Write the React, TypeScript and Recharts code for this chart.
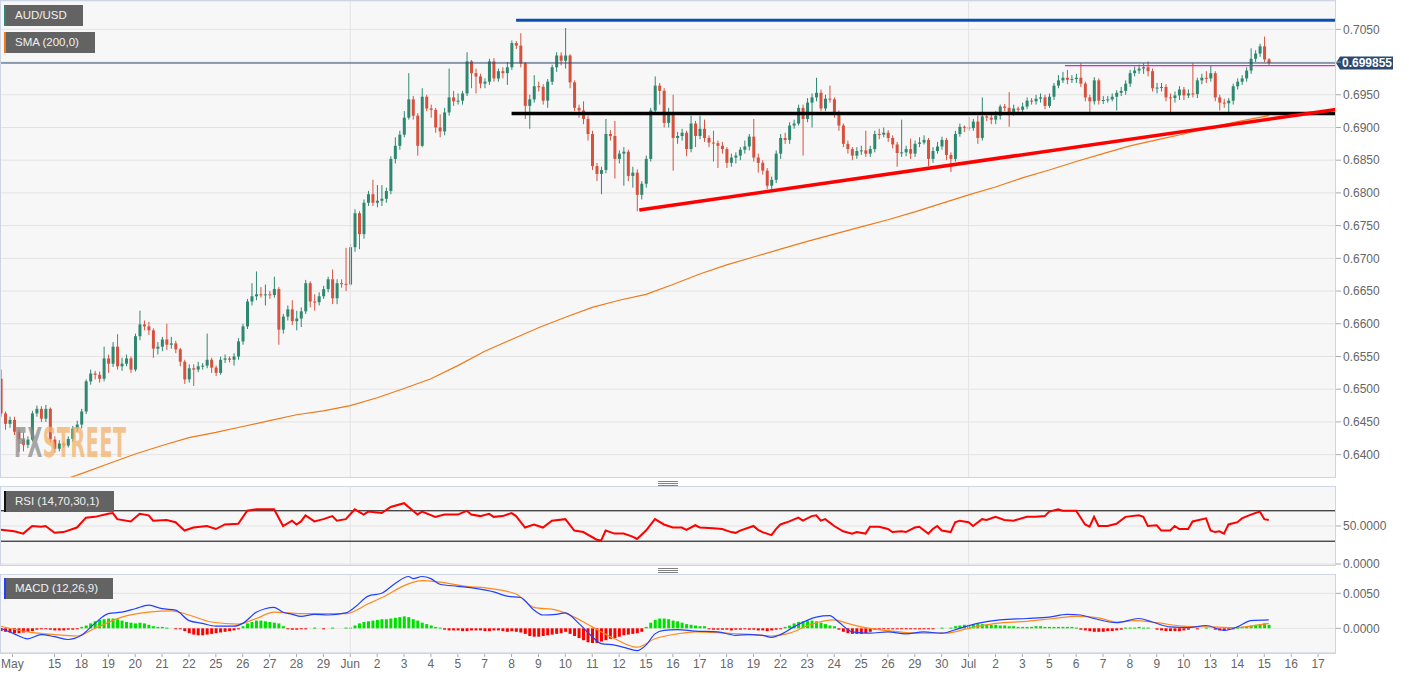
import React from "react";
import {
  ComposedChart,
  Bar,
  Line,
  XAxis,
  YAxis,
  CartesianGrid,
  ReferenceLine,
} from "recharts";

// AUD/USD 4H candles, prices in 1/10000 units (pips). open = previous close
const PIP = 0.0001;
const FIRST_OPEN = 6516;

const closes = [
  6463, 6447, 6453, 6435, 6423, 6415, 6423, 6463, 6470, 6455, 6470, 6423,
  6409, 6417, 6414, 6424, 6440, 6446, 6466, 6512, 6524, 6522, 6516, 6547,
  6539, 6565, 6535, 6539, 6547, 6530, 6581, 6599, 6596, 6590, 6562, 6565,
  6576, 6568, 6570, 6561, 6542, 6515, 6532, 6530, 6535, 6536, 6545, 6533,
  6525, 6545, 6547, 6545, 6550, 6573, 6596, 6634, 6642, 6645, 6644, 6645,
  6644, 6653, 6591, 6611, 6622, 6604, 6608, 6619, 6662, 6634, 6633, 6642,
  6653, 6668, 6639, 6662, 6661, 6660, 6717, 6769, 6737, 6785, 6798, 6785,
  6788, 6791, 6803, 6852, 6872, 6889, 6915, 6943, 6918, 6872, 6947, 6929,
  6927, 6900, 6894, 6923, 6946, 6940, 6941, 6952, 7001, 6983, 6978, 6967,
  6970, 7001, 6975, 6986, 6983, 6992, 7029, 7025, 6998, 6933, 6943, 6963,
  6962, 6941, 6970, 6992, 7010, 7002, 7010, 6969, 6930, 6926, 6913, 6890,
  6841, 6829, 6835, 6890, 6887, 6852, 6860, 6863, 6826, 6831, 6797, 6814,
  6852, 6926, 6964, 6956, 6907, 6923, 6884, 6887, 6892, 6867, 6906, 6887,
  6898, 6884, 6877, 6876, 6872, 6867, 6846, 6854, 6857, 6866, 6871, 6886,
  6854, 6846, 6834, 6811, 6820, 6860, 6884, 6881, 6903, 6906, 6930, 6913,
  6938, 6946, 6953, 6929, 6944, 6943, 6923, 6903, 6875, 6867, 6857, 6864,
  6865, 6860, 6867, 6890, 6889, 6892, 6884, 6874, 6861, 6862, 6867, 6860,
  6875, 6877, 6881, 6852, 6864, 6871, 6881, 6858, 6852, 6890, 6901, 6900,
  6899, 6909, 6884, 6917, 6915, 6912, 6918, 6932, 6930, 6923, 6929, 6927,
  6932, 6941, 6940, 6944, 6946, 6933, 6947, 6964, 6972, 6976, 6973, 6974,
  6976, 6967, 6946, 6940, 6972, 6941, 6942, 6943, 6947, 6953, 6956, 6967,
  6983, 6987, 6990, 6992, 6986, 6960, 6961, 6962, 6946, 6945, 6949, 6958,
  6949, 6952, 6951, 6972, 6976, 6975, 6983, 6946, 6938, 6937, 6941, 6963,
  6970, 6975, 6987, 7005, 7013, 7024, 7004, 6998.55,
];

const highs = [
  6530, 6466, 6458, 6458, 6440, 6434, 6428, 6467, 6475, 6474, 6476, 6472,
  6428, 6422, 6420, 6428, 6444, 6452, 6470, 6515, 6530, 6528, 6527, 6565,
  6553, 6572, 6584, 6548, 6553, 6550, 6585, 6620, 6605, 6603, 6593, 6572,
  6580, 6600, 6580, 6574, 6563, 6545, 6538, 6538, 6542, 6540, 6585, 6548,
  6536, 6550, 6553, 6550, 6555, 6578, 6600, 6638, 6662, 6680, 6656, 6660,
  6650, 6672, 6656, 6615, 6628, 6636, 6620, 6625, 6667, 6665, 6645, 6648,
  6658, 6672, 6683, 6668, 6668, 6716, 6722, 6775, 6772, 6790, 6803, 6820,
  6812, 6812, 6808, 6856, 6885, 6895, 6925, 6983, 6948, 6922, 6960, 6950,
  6935, 6930, 6920, 6930, 6990, 6956, 6952, 6956, 7015, 7003, 6990, 6982,
  6975, 7005, 7006, 6990, 6992, 7000, 7033, 7032, 7044, 7000, 6950, 6980,
  6970, 6966, 6974, 6996, 7015, 7015, 7052, 7012, 6972, 6935, 6940, 6918,
  6895, 6846, 6840, 6913, 6896, 6910, 6865, 6870, 6866, 6840, 6836, 6818,
  6857, 6930, 6978, 6968, 6960, 6930, 6950, 6893, 6898, 6895, 6918, 6910,
  6918, 6912, 6888, 6895, 6880, 6878, 6870, 6860, 6862, 6870, 6880, 6890,
  6913, 6860, 6850, 6838, 6825, 6865, 6890, 6892, 6908, 6912, 6935, 6935,
  6945, 6952, 6976, 6958, 6950, 6964, 6946, 6926, 6906, 6880, 6870, 6870,
  6872, 6895, 6872, 6895, 6898, 6900, 6896, 6888, 6878, 6912, 6872, 6883,
  6880, 6885, 6888, 6884, 6870, 6878, 6886, 6884, 6862, 6895, 6906, 6903,
  6916, 6913, 6918, 6946, 6920, 6920, 6925, 6935, 6936, 6954, 6935, 6932,
  6938, 6946, 6945, 6950, 6952, 6950, 6952, 6968, 6980, 6985, 6988, 6980,
  6982, 6998, 6970, 6950, 6977, 6975, 6948, 6948, 6952, 6957, 6962, 6972,
  6988, 6993, 6996, 6998, 7001, 6990, 6968, 6968, 6966, 6952, 6955, 6963,
  6962, 6958, 6998, 6976, 6982, 6986, 6994, 6986, 6950, 6944, 6945, 6967,
  6975, 6980, 6992, 7021, 7018, 7028, 7039, 7006,
];

const lows = [
  6458, 6438, 6441, 6430, 6404, 6405, 6410, 6420, 6458, 6450, 6450, 6418,
  6403, 6405, 6410, 6411, 6420, 6435, 6440, 6462, 6507, 6515, 6510, 6512,
  6525, 6534, 6530, 6528, 6535, 6525, 6527, 6575, 6590, 6583, 6548, 6553,
  6558, 6560, 6562, 6555, 6535, 6508, 6510, 6505, 6526, 6530, 6532, 6525,
  6520, 6522, 6540, 6541, 6536, 6545, 6568, 6592, 6628, 6636, 6640, 6628,
  6638, 6640, 6568, 6585, 6605, 6598, 6590, 6595, 6615, 6625, 6620, 6628,
  6638, 6648, 6630, 6630, 6655, 6650, 6658, 6710, 6714, 6730, 6780, 6780,
  6778, 6780, 6785, 6798, 6845, 6866, 6885, 6912, 6912, 6857, 6870, 6925,
  6915, 6892, 6885, 6888, 6918, 6933, 6935, 6935, 6948, 6960, 6952, 6960,
  6960, 6965, 6970, 6970, 6975, 6965, 6988, 7020, 6992, 6913, 6898, 6938,
  6955, 6935, 6930, 6965, 6985, 6995, 6990, 6960, 6925, 6915, 6905, 6880,
  6835, 6818, 6798, 6830, 6880, 6822, 6845, 6811, 6818, 6808, 6772, 6790,
  6808, 6848, 6920, 6935, 6900, 6900, 6834, 6875, 6880, 6856, 6862, 6870,
  6882, 6878, 6870, 6848, 6838, 6860, 6838, 6840, 6845, 6850, 6860, 6865,
  6848, 6831, 6828, 6806, 6805, 6815, 6852, 6875, 6875, 6898, 6903, 6857,
  6908, 6900, 6940, 6925, 6925, 6938, 6915, 6895, 6870, 6860, 6850, 6852,
  6858, 6855, 6855, 6862, 6882, 6885, 6878, 6868, 6840, 6855, 6856, 6852,
  6855, 6870, 6874, 6841, 6846, 6860, 6866, 6850, 6832, 6848, 6886, 6893,
  6895, 6895, 6875, 6880, 6910, 6905, 6905, 6912, 6925, 6901, 6918, 6922,
  6922, 6928, 6935, 6935, 6938, 6928, 6930, 6942, 6960, 6968, 6966, 6968,
  6968, 6962, 6940, 6923, 6935, 6935, 6936, 6938, 6940, 6926, 6948, 6950,
  6962, 6978, 6982, 6982, 6978, 6955, 6952, 6955, 6940, 6923, 6938, 6942,
  6942, 6945, 6946, 6945, 6966, 6968, 6970, 6940, 6926, 6930, 6923, 6935,
  6958, 6965, 6970, 6982, 7000, 7008, 7000, 6995,
];

// SMA(200) read at [bar, price]
const smaPoints: [number, number][] = [
  [15, 0.6364], [18, 0.6371], [24, 0.6386], [30, 0.6401], [36, 0.6414],
  [42, 0.6426], [48, 0.6434], [54, 0.6443], [60, 0.6452], [66, 0.6461],
  [72, 0.6467], [78, 0.6475], [84, 0.6487], [90, 0.6501], [96, 0.6516],
  [102, 0.6536], [108, 0.6558], [114, 0.6576], [120, 0.6594], [126, 0.661],
  [132, 0.6625], [138, 0.6636], [144, 0.6645], [150, 0.666], [156, 0.6676],
  [162, 0.669], [168, 0.6702], [174, 0.6714], [180, 0.6726], [186, 0.6737],
  [192, 0.6748], [198, 0.6759], [204, 0.6771], [210, 0.6784], [216, 0.6797],
  [222, 0.6809], [228, 0.6823], [234, 0.6835], [240, 0.6848], [246, 0.686],
  [252, 0.6872], [258, 0.6881], [264, 0.689], [270, 0.69], [276, 0.6909],
  [283, 0.6918],
];

// RSI(14) read at [bar, value]
const rsiPoints: [number, number][] = [
  [0, 45], [3, 43], [5, 40], [7, 50], [9, 49], [10, 50], [12, 41], [14, 42],
  [17, 48], [19, 61], [21, 62], [24, 66], [25, 67], [26, 59], [29, 56],
  [31, 66], [33, 64], [34, 57], [37, 58], [39, 55], [41, 44], [43, 48],
  [46, 50], [48, 46], [50, 52], [53, 53], [55, 70], [57, 72], [61, 72],
  [63, 50], [65, 57], [66, 52], [67, 56], [68, 64], [70, 56], [72, 59],
  [74, 63], [75, 57], [77, 59], [79, 72], [81, 65], [82, 69], [85, 67],
  [87, 75], [90, 80], [93, 65], [94, 69], [97, 62], [99, 65], [102, 65],
  [104, 70], [105, 65], [107, 63], [109, 66], [110, 62], [112, 63], [114, 67],
  [115, 63], [117, 48], [119, 52], [121, 48], [123, 57], [126, 59], [128, 44],
  [130, 42], [133, 32], [134, 31], [135, 44], [137, 40], [139, 40], [141, 36],
  [142, 33], [144, 44], [146, 59], [148, 52], [150, 48], [152, 48], [153, 45],
  [155, 51], [156, 48], [159, 47], [161, 46], [163, 42], [164, 41], [165, 44],
  [167, 48], [168, 50], [169, 45], [170, 42], [172, 38], [173, 46], [174, 52],
  [176, 56], [178, 61], [179, 57], [181, 63], [182, 64], [183, 57], [184, 59],
  [186, 50], [188, 43], [190, 40], [191, 42], [193, 40], [194, 49], [196, 49],
  [198, 46], [199, 42], [201, 43], [202, 42], [204, 48], [205, 49], [207, 40],
  [208, 46], [209, 50], [210, 44], [212, 42], [213, 55], [214, 57], [216, 55],
  [217, 50], [219, 59], [220, 58], [222, 62], [224, 58], [226, 57], [229, 62],
  [231, 62], [233, 63], [234, 69], [236, 72], [237, 70], [240, 70], [242, 52],
  [243, 49], [244, 62], [245, 50], [247, 50], [249, 53], [251, 62], [254, 64],
  [255, 62], [256, 50], [258, 51], [259, 44], [261, 44], [262, 50], [263, 46],
  [265, 46], [266, 56], [269, 60], [270, 44], [271, 42], [272, 43], [273, 40],
  [274, 52], [276, 55], [277, 60], [279, 65], [281, 69], [282, 59], [283, 58],
];

// MACD(12,26,9) lines read at [bar, value in pips]
const macdPoints: [number, number][] = [
  [0, 0], [3, -8], [6, -15], [9, -9], [12, -12], [15, -16], [18, -10], [21, 7],
  [24, 21], [27, 23], [30, 28], [33, 33], [36, 28], [39, 26], [42, 11], [45, 7],
  [48, 3], [52, 3], [54, 7], [57, 23], [59, 28], [61, 30], [63, 23], [65, 20],
  [67, 17], [70, 20], [73, 19], [77, 22], [79, 30], [82, 46], [85, 50], [88, 64],
  [91, 74], [92, 71], [94, 74], [96, 71], [98, 63], [102, 60], [106, 57],
  [110, 52], [113, 46], [116, 44], [119, 26], [121, 19], [124, 20], [126, 22],
  [129, 7], [132, -12], [134, -22], [137, -24], [140, -29], [142, -32],
  [144, -24], [146, -8], [148, -3], [151, -2], [155, -4], [160, -5], [164, -10],
  [167, -9], [170, -10], [172, -13], [174, -9], [177, 2], [182, 16], [185, 18],
  [187, 9], [190, -5], [194, -7], [198, -5], [202, -8], [206, -5], [210, -7],
  [214, 0], [218, 7], [223, 12], [229, 14], [234, 16], [238, 20], [241, 19],
  [244, 14], [249, 8], [254, 14], [257, 9], [261, 2], [265, 1], [269, 4],
  [273, -3], [276, 2], [279, 11], [283, 12],
];

const signalPoints: [number, number][] = [
  [0, 3], [6, -5], [12, -9], [17, -11], [21, 0], [27, 16], [33, 23], [38, 25],
  [42, 19], [47, 9], [53, 6], [57, 14], [61, 23], [67, 21], [77, 21], [82, 35],
  [86, 47], [90, 61], [94, 68], [98, 66], [104, 60], [109, 57], [115, 49],
  [119, 30], [124, 26], [128, 16], [132, 2], [137, -15], [142, -27], [146, -15],
  [151, -8], [155, -5], [162, -7], [168, -9], [172, -11], [176, -7], [181, 6],
  [186, 12], [189, 7], [193, 1], [199, -4], [205, -7], [211, -7], [216, 0],
  [222, 7], [229, 10], [235, 14], [240, 17], [245, 15], [249, 9], [253, 11],
  [258, 8], [264, 3], [270, 2], [275, 1], [283, 7],
];

// MACD histogram, one per bar, in pips
const histogram = [
  -4, -5, -6, -7, -7, -6, -5, -4, -2, -1, -1, -2, -3, -3, -3, -2, -2, -1,
  2, 4, 7, 10, 12, 13, 14, 14, 13, 11, 9, 8, 7, 8, 7, 5, 3, 2, 2, 1, 0, -1, -1,
  -4, -7, -9, -10, -10, -9, -8, -7, -6, -5, -4, -3, -1,
  3, 7, 9, 11, 11, 10, 9, 8, 7, 3, -1, -2, -2, -1, -1,
  0, 1, 0, -1, 0, 1, 0, 0, 1, 1,
  4, 7, 9, 10, 11, 12, 13, 13, 14, 15, 16, 17, 16, 13, 11, 8, 6, 4, 2, 1,
  -2, -3, -3, -3, -4, -4, -3, -3, -3, -4, -4, -3, -3, -4, -5, -4, -5, -6,
  -8, -11, -12, -12, -11, -10, -9, -8, -7, -5,
  -8, -11, -14, -17, -20, -21, -21, -19, -17, -15, -14, -12, -10, -9, -8, -7, -5,
  2, 8, 12, 14, 14, 13, 11, 10, 8, 6, 5, 4, 3, 3,
  -1, -2, -2, -2, -2, -3, -2, -2, -1, -2, -2, -3, -3, -4, -3, -2, -1,
  2, 4, 7, 9, 10, 11, 11, 10, 8, 6, 4, 3,
  -2, -5, -7, -8, -8, -8, -7, -5,
  -2, -2, -1, -1, -1, -1, -1, -1, -1, -1, -1, -1, -1, -1, 0, 1, 0, 1,
  3, 4, 5, 5, 6, 6, 6, 5, 5, 5, 4, 4,
  3, 3, 2, 2, 2, 2, 3, 3, 2, 2, 2, 2, 2, 2, 2, 1,
  -2, -3, -4, -5, -5, -5, -4, -4, -3, -2, 1, 1, 1, 2, 1, 1, 0,
  -2, -3, -4, -4, -4, -4, -3, -2, 0, -1, 0, 1, 0,
  -2, -3, -3, -2, -1, 1, 2, 3, 4, 5, 6, 7, 5,
];

// grid lines every 0.0050; the 0.7000 label sits under the last-price tag
const priceGrid = [
  0.64, 0.645, 0.65, 0.655, 0.66, 0.665, 0.67, 0.675, 0.68, 0.685, 0.69, 0.695,
  0.7, 0.705,
];
const hiddenPriceLabel = 0.7;
const rsiTicks = [0, 50];
const macdTicks = [0, 0.005];

const dayLabels = [
  "15", "18", "19", "20", "21", "22", "25", "26", "27", "28", "29", "Jun",
  "2", "3", "4", "5", "7", "8", "9", "10", "11", "12", "15", "16", "17", "18",
  "19", "22", "23", "24", "25", "26", "29", "30", "Jul", "2", "3", "5", "6",
  "7", "8", "9", "10", "13", "14", "15", "16", "17",
];
const MONTH_LABEL = "May";

// drawn levels / trend lines (bar index, price)
const LAST_PRICE = 0.699855;
const resistance = { from: 115, to: 298, price: 0.70638 };
const support = { from: 114, to: 298, price: 0.69212 };
const rangeTop = { from: 237.5, to: 298, price: 0.69944 };
const trendLine = { from: [142.5, 0.6774], to: [298, 0.69274] };

// layout
const W = 1413;
const AXIS_W = 77;
const PLOT_W = W - AXIS_W;
const X_DOMAIN: [number, number] = [-0.18, 298];
const MAIN_DOMAIN: [number, number] = [0.63643, 0.70933];
const RSI_DOMAIN: [number, number] = [-1.3, 102.6];
const MACD_DOMAIN: [number, number] = [-0.00353, 0.00776];
const FONT = "'Liberation Sans', Arial, Helvetica, sans-serif";
const BORDER = "#cdd4e3";
const GRID = "#e3e3e3";
const PLOT_BG = "#f7f7f7";
const UP = "#2e8870";
const DOWN = "#d6523e";

const FIRST_LABEL_BAR = 12;
const BARS_PER_DAY = 6;
const MONTH_LABEL_BAR = 2.6;
const xTicks = [MONTH_LABEL_BAR, ...dayLabels.map((_, k) => FIRST_LABEL_BAR + BARS_PER_DAY * k)];
const tickText: Record<number, string> = { [MONTH_LABEL_BAR]: MONTH_LABEL };
dayLabels.forEach((t, k) => (tickText[FIRST_LABEL_BAR + BARS_PER_DAY * k] = t));
const JUN_BAR = FIRST_LABEL_BAR + BARS_PER_DAY * dayLabels.indexOf("Jun");
const JUL_BAR = FIRST_LABEL_BAR + BARS_PER_DAY * dayLabels.indexOf("Jul");

const rows: any[] = closes.map((c, i) => {
  const o = i === 0 ? FIRST_OPEN : closes[i - 1];
  const hi = Math.max(highs[i], o, c) * PIP;
  const lo = Math.min(lows[i], o, c) * PIP;
  return { i, o: o * PIP, c: c * PIP, hi, lo, range: [lo, hi], hist: histogram[i] * PIP };
});
smaPoints.forEach(([i, v]) => (rows[i].sma = v));
rsiPoints.forEach(([i, v]) => (rows[i].rsi = v));
macdPoints.forEach(([i, v]) => (rows[i].macd = v * PIP));
signalPoints.forEach(([i, v]) => (rows[i].signal = v * PIP));

const Candle = (props: any) => {
  const { x, y, width, height, payload } = props;
  if (!payload || x == null || y == null) return null;
  const top = Math.min(y, y + height);
  const h = Math.abs(height);
  const { o, c, hi, lo } = payload;
  const k = hi > lo ? h / (hi - lo) : 0;
  const bTop = top + (hi - Math.max(o, c)) * k;
  const bBot = top + (hi - Math.min(o, c)) * k;
  const cx = x + width / 2;
  const col = c >= o ? UP : DOWN;
  return (
    <g>
      <line x1={cx} x2={cx} y1={top} y2={top + h} stroke={col} strokeWidth={1} />
      <rect x={x} y={bTop} width={width} height={Math.max(1, bBot - bTop)} fill={col} />
    </g>
  );
};

const HistBar = (props: any) => {
  const { x, y, width, height, payload } = props;
  if (!payload || !payload.hist || x == null) return null;
  const top = Math.min(y, y + height);
  const h = Math.max(1, Math.abs(height));
  return <rect x={x} y={top} width={width} height={h} fill={payload.hist > 0 ? "#00e000" : "#ff0000"} />;
};

const PriceTag = (props: any) => {
  const vb = props.viewBox || {};
  const x = (vb.x ?? 0) + (vb.width ?? 0);
  const y = vb.y ?? 0;
  return (
    <g>
      <path
        d={`M${x} ${y} L${x + 4} ${y - 6.5} L${x + 57} ${y - 6.5} L${x + 57} ${y + 6.5} L${x + 4} ${y + 6.5} Z`}
        fill="#2d4a6e"
      />
      <text x={x + 31} y={y + 4.5} textAnchor="middle" fill="#fff" fontSize={12} fontWeight="bold">
        {LAST_PRICE.toFixed(6)}
      </text>
    </g>
  );
};

const fmt4 = (v: number) => v.toFixed(4);
const priceLabel = (v: number) => (Math.abs(v - hiddenPriceLabel) < 1e-9 ? "" : v.toFixed(4));
const yTick = { fill: "#666", fontSize: 12 };

const Tag = ({ top, width, text, bar }: { top: number; width: number; text: string; bar: string }) => (
  <div
    style={{
      position: "absolute",
      left: 4,
      top,
      width,
      height: 21,
      background: "#636363",
      borderLeft: `2px solid ${bar}`,
      color: "#f0f0f0",
      fontSize: 11.5,
      lineHeight: "21px",
      paddingLeft: 9,
      boxSizing: "border-box",
    }}
  >
    {text}
  </div>
);

const Grip = ({ top }: { top: number }) => (
  <div style={{ position: "absolute", left: 658, top, width: 20 }}>
    {[0, 2, 4].map((d) => (
      <div key={d} style={{ position: "absolute", top: d, width: 20, height: 1, background: "#808080" }} />
    ))}
  </div>
);

const Frame = ({ top, height }: { top: number; height: number }) => (
  <div
    style={{
      position: "absolute",
      left: 0,
      top,
      width: PLOT_W,
      height,
      border: `1px solid ${BORDER}`,
      boxSizing: "border-box",
      pointerEvents: "none",
    }}
  />
);

export default function App() {
  return (
    <div
      style={{
        position: "absolute",
        left: 0,
        top: 0,
        width: W,
        height: 678,
        background: "#fff",
        overflow: "hidden",
        fontFamily: FONT,
      }}
    >
      {/* price panel */}
      <div style={{ position: "absolute", left: 0, top: 0 }}>
        <ComposedChart width={W} height={478} data={rows} margin={{ top: 1, right: 0, bottom: 0, left: 0 }}>
          <CartesianGrid vertical={false} stroke={GRID} fill={PLOT_BG} />
          <XAxis type="number" dataKey="i" domain={X_DOMAIN} allowDataOverflow hide />
          <YAxis
            orientation="right"
            width={AXIS_W}
            domain={MAIN_DOMAIN}
            allowDataOverflow
            ticks={priceGrid}
            tickFormatter={priceLabel}
            interval={0}
            tick={yTick}
            tickLine={{ stroke: "#aaa" }}
            tickSize={5}
            axisLine={false}
          />
          <ReferenceLine x={JUN_BAR} stroke={GRID} />
          <ReferenceLine x={JUL_BAR} stroke={GRID} />
          <Bar dataKey="range" barSize={3} shape={(p: any) => <Candle {...p} />} isAnimationActive={false} />
          <Line
            dataKey="sma"
            type="linear"
            stroke="#f07a1a"
            strokeWidth={1.2}
            dot={false}
            connectNulls
            isAnimationActive={false}
          />
          <ReferenceLine y={LAST_PRICE} stroke="#2b4670" strokeWidth={1} label={<PriceTag />} />
          <ReferenceLine
            segment={[
              { x: rangeTop.from, y: rangeTop.price },
              { x: rangeTop.to, y: rangeTop.price },
            ]}
            stroke="#e01fe0"
            strokeWidth={1.2}
          />
          <ReferenceLine
            segment={[
              { x: resistance.from, y: resistance.price },
              { x: resistance.to, y: resistance.price },
            ]}
            stroke="#0a50b4"
            strokeWidth={3}
          />
          <ReferenceLine
            segment={[
              { x: support.from, y: support.price },
              { x: support.to, y: support.price },
            ]}
            stroke="#000"
            strokeWidth={3.5}
          />
          <ReferenceLine
            segment={[
              { x: trendLine.from[0], y: trendLine.from[1] },
              { x: trendLine.to[0], y: trendLine.to[1] },
            ]}
            stroke="#ff0000"
            strokeWidth={3.5}
          />
        </ComposedChart>
      </div>
      <Frame top={0} height={478} />

      {/* RSI panel */}
      <div style={{ position: "absolute", left: 0, top: 486 }}>
        <ComposedChart width={W} height={88} data={rows} margin={{ top: 0, right: 0, bottom: 9, left: 0 }}>
          <CartesianGrid vertical={false} stroke={GRID} fill={PLOT_BG} />
          <XAxis type="number" dataKey="i" domain={X_DOMAIN} allowDataOverflow hide />
          <YAxis
            orientation="right"
            width={AXIS_W}
            domain={RSI_DOMAIN}
            allowDataOverflow
            ticks={rsiTicks}
            tickFormatter={fmt4}
            interval={0}
            tick={yTick}
            tickLine={{ stroke: "#aaa" }}
            tickSize={5}
            axisLine={false}
          />
          <ReferenceLine x={JUN_BAR} stroke={GRID} />
          <ReferenceLine x={JUL_BAR} stroke={GRID} />
          <ReferenceLine y={70} stroke="#000" strokeWidth={1} />
          <ReferenceLine y={30} stroke="#000" strokeWidth={1} />
          <Line
            dataKey="rsi"
            type="linear"
            stroke="#ff0000"
            strokeWidth={2}
            dot={false}
            connectNulls
            isAnimationActive={false}
          />
        </ComposedChart>
      </div>
      <Frame top={486} height={80} />

      {/* MACD panel */}
      <div style={{ position: "absolute", left: 0, top: 574 }}>
        <ComposedChart width={W} height={104} data={rows} margin={{ top: 0, right: 0, bottom: 0, left: 0 }}>
          <CartesianGrid vertical={false} stroke={GRID} fill={PLOT_BG} />
          <XAxis
            type="number"
            dataKey="i"
            domain={X_DOMAIN}
            allowDataOverflow
            ticks={xTicks}
            interval={0}
            tickFormatter={(v: number) => tickText[v] ?? ""}
            tick={{ fill: "#666", fontSize: 12 }}
            tickLine={{ stroke: "#aaa" }}
            tickSize={4}
            height={25}
            axisLine={{ stroke: BORDER }}
          />
          <YAxis
            orientation="right"
            width={AXIS_W}
            domain={MACD_DOMAIN}
            allowDataOverflow
            ticks={macdTicks}
            tickFormatter={fmt4}
            interval={0}
            tick={yTick}
            tickLine={{ stroke: "#aaa" }}
            tickSize={5}
            axisLine={false}
          />
          <ReferenceLine x={JUN_BAR} stroke={GRID} />
          <ReferenceLine x={JUL_BAR} stroke={GRID} />
          <Bar dataKey="hist" barSize={3} shape={(p: any) => <HistBar {...p} />} isAnimationActive={false} />
          <Line
            dataKey="signal"
            type="monotone"
            stroke="#ff8a1c"
            strokeWidth={1.2}
            dot={false}
            connectNulls
            isAnimationActive={false}
          />
          <Line
            dataKey="macd"
            type="monotone"
            stroke="#2040ff"
            strokeWidth={1.2}
            dot={false}
            connectNulls
            isAnimationActive={false}
          />
        </ComposedChart>
      </div>
      <Frame top={574} height={80} />

      <Grip top={481} />
      <Grip top={568} />

      <Tag top={5} width={79} text="AUD/USD" bar="#2e8870" />
      <Tag top={32} width={91} text="SMA (200,0)" bar="#f07a1a" />
      <Tag top={491} width={110} text="RSI (14,70,30,1)" bar="#111" />
      <Tag top={578} width={109} text="MACD (12,26,9)" bar="#2040ff" />

      {/* watermark */}
      <div
        style={{
          position: "absolute",
          left: 14,
          top: 423,
          fontFamily: "'Liberation Sans Narrow', 'DejaVu Sans Condensed', sans-serif",
          fontWeight: "bold",
          fontSize: 40,
          lineHeight: "40px",
          transform: "scaleX(0.53)",
          transformOrigin: "left top",
          opacity: 0.75,
          letterSpacing: 1,
          whiteSpace: "nowrap",
          pointerEvents: "none",
        }}
      >
        <span style={{ color: "#8c8c8c" }}>FX</span>
        <span style={{ color: "#f3b26a" }}>STREET</span>
      </div>
    </div>
  );
}
